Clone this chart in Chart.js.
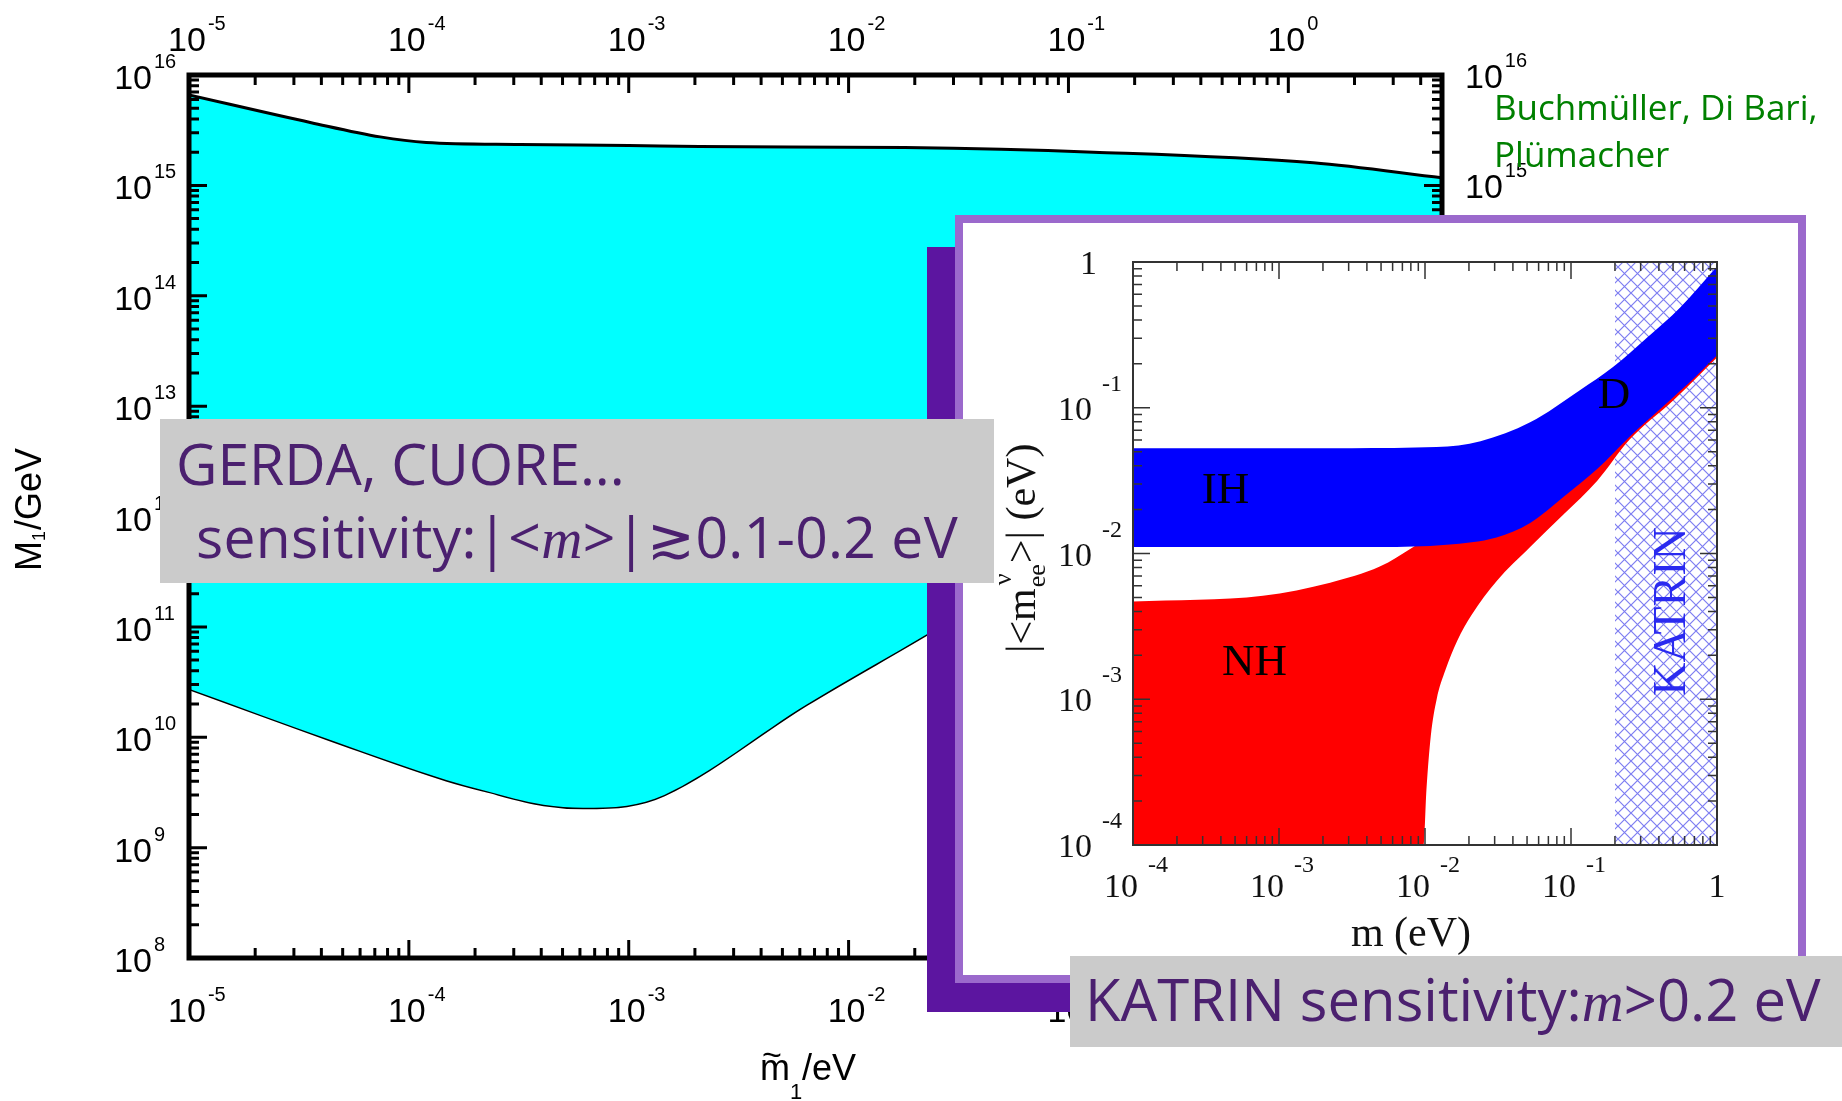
<!DOCTYPE html>
<html>
<head>
<meta charset="utf-8">
<title>Leptogenesis and neutrino mass</title>
<script src="https://cdn.jsdelivr.net/npm/chart.js@4.4.1/dist/chart.umd.min.js"></script>
<style>
  html, body { margin: 0; padding: 0; background: #fff; }
  body { position: relative; width: 1842px; height: 1101px; overflow: hidden; }
  canvas { position: absolute; }
  #mainChart { left: 0; top: 0; }
  .credit { position: absolute; left: 1494px; top: 83px; font: 35px "Open Sans", sans-serif; line-height: 47px; color: #008000; white-space: nowrap; }
  .shadow { position: absolute; left: 927px; top: 247px; width: 851px; height: 765px; background: #5c15a0; }
  .frame { position: absolute; left: 955px; top: 215px; width: 851px; height: 768px; box-sizing: border-box; background: #fff; border: 8px solid #9b69cc; }
  #insetChart { left: 955px; top: 215px; }
  .note { position: absolute; background: #cbcbcb; color: #4b206f; font-family: "Open Sans", sans-serif; }
  .note .ln { position: absolute; white-space: nowrap; line-height: 1; }
  .note i { font-family: "Liberation Serif", serif; line-height: 0; }
  .gerda { left: 160px; top: 419px; width: 834px; height: 164px; font-size: 57px; }
  .katrin { left: 1070px; top: 956px; width: 772px; height: 91px; font-size: 58px; }
</style>
</head>
<body>
<canvas id="mainChart" width="1842" height="1101"></canvas>
<div class="credit">Buchmüller, Di Bari,<br>Plümacher</div>
<div class="shadow"></div>
<div class="frame"></div>
<canvas id="insetChart" width="851" height="768"></canvas>
<div class="note gerda">
  <div class="ln" style="left:16px; top:16px;">GERDA, CUORE...</div>
  <div class="ln" style="left:36px; top:89px; letter-spacing:0.3px;">sensitivity:|&lt;<i>m</i>&gt;|≳0.1-0.2 eV</div>
</div>
<div class="note katrin">
  <div class="ln" style="left:15px; top:14px;">KATRIN sensitivity:<i>m</i>&gt;0.2 eV</div>
</div>
<script>
// ---- main plot: allowed window for M1 vs effective neutrino mass ----
const upperM = [1e-5, 3.6e-5, 7.4e-5, 1.2e-4, 3.2e-4, 1e-3, 2.1e-3, 1.8e-2, 0.13, 1.3, 5];
const upperM1 = [6.6e15, 3.7e15, 2.75e15, 2.45e15, 2.35e15, 2.3e15, 2.25e15, 2.2e15, 2.0e15, 1.6e15, 1.17e15];
const lowerM = [1e-5, 4.5e-5, 1.48e-4, 2.2e-4, 4.1e-4, 6.2e-4, 9.8e-4, 1.45e-3, 6.5e-3, 2.3e-2, 5];
const lowerM1 = [2.75e10, 9.3e9, 4.1e9, 3.3e9, 2.45e9, 2.3e9, 2.4e9, 3.0e9, 2.0e10, 8.7e10, 5.8e13];
const mainXExps = [-5, -4, -3, -2, -1, 0];
const mainYExps = [8, 9, 10, 11, 12, 13, 14, 15, 16];

// ---- inset: |<m_ee>| vs lightest neutrino mass ----
const blueTopM = [1e-4, 3.16e-3, 0.012, 0.024, 0.0525, 0.115, 0.195, 0.331, 0.562, 1];
const blueTopMee = [0.0528, 0.0528, 0.0537, 0.0589, 0.0794, 0.132, 0.191, 0.302, 0.49, 0.933];
const blueBotM = [1e-4, 4.9e-3, 0.0141, 0.0309, 0.0525, 0.0891, 0.151, 0.251, 0.427, 0.724, 1];
const blueBotMee = [0.0111, 0.0111, 0.0115, 0.0129, 0.0162, 0.0245, 0.038, 0.0631, 0.102, 0.166, 0.229];
const redTopM = [1e-4, 7.76e-4, 2.24e-3, 4.9e-3, 8.32e-3, 0.01413, 0.03162, 0.1, 0.3162, 1];
const redTopMee = [4.68e-3, 5.13e-3, 6.31e-3, 8.13e-3, 0.01109, 0.01585, 0.02818, 0.0708, 0.1995, 0.5623];
const redBotM = [1e-4, 9.77e-3, 1.023e-2, 1.096e-2, 1.202e-2, 1.38e-2, 1.66e-2, 2.089e-2, 3.09e-2, 5.248e-2, 8.913e-2, 0.1514, 0.2512, 0.5012, 1];
const redBotMee = [1e-4, 1e-4, 2.4e-4, 5.62e-4, 1.0e-3, 1.585e-3, 2.51e-3, 3.8e-3, 6.46e-3, 0.01109, 0.01862, 0.03162, 0.0603, 0.1122, 0.2213];
const katrinLimit = 0.2;
const insetXExps = [-4, -3, -2, -1, 0];
const insetYExps = [-4, -3, -2, -1, 0];

const toPoints = (xs, ys) => xs.map((x, i) => ({x: x, y: ys[i]}));

// log ticks k*10^d between min and max
function logTicks(min, max) {
  const out = [];
  for (let d = Math.floor(Math.log10(min)); d <= Math.ceil(Math.log10(max)); d++) {
    for (let k = 1; k < 10; k++) {
      const v = k * Math.pow(10, d);
      if (v >= min * 0.999 && v <= max * 1.001) out.push({v: v, major: k === 1});
    }
  }
  return out;
}

// inward ticks on all four sides
function drawTicks(ctx, scale, area, majorLen, minorLen) {
  logTicks(scale.min, scale.max).forEach(t => {
    const p = scale.getPixelForValue(t.v);
    const len = t.major ? majorLen : minorLen;
    ctx.beginPath();
    if (scale.isHorizontal()) {
      ctx.moveTo(p, area.bottom); ctx.lineTo(p, area.bottom - len);
      ctx.moveTo(p, area.top); ctx.lineTo(p, area.top + len);
    } else {
      ctx.moveTo(area.left, p); ctx.lineTo(area.left + len, p);
      ctx.moveTo(area.right, p); ctx.lineTo(area.right - len, p);
    }
    ctx.stroke();
  });
}

// "10" with a raised exponent; x is the anchor of the "10", y its baseline
function drawPower(ctx, exp, x, y, o) {
  ctx.font = o.baseFont;
  const w = ctx.measureText('10').width;
  const left = o.align === 'center' ? x - w / 2 : (o.align === 'right' ? x - w : x);
  ctx.textAlign = 'left';
  ctx.textBaseline = 'alphabetic';
  ctx.fillText('10', left, y);
  ctx.font = o.expFont;
  ctx.fillText(String(exp), left + w + o.gap, y - o.rise);
}

const mainFrame = {
  id: 'mainFrame',
  afterDraw(chart) {
    const ctx = chart.ctx, a = chart.chartArea;
    const x = chart.scales.x, y = chart.scales.y;
    ctx.save();
    ctx.strokeStyle = '#000';
    ctx.fillStyle = '#000';
    ctx.lineWidth = 3;
    drawTicks(ctx, x, a, 18, 10);
    drawTicks(ctx, y, a, 18, 10);
    ctx.lineWidth = 5;
    ctx.strokeRect(a.left, a.top, a.right - a.left, a.bottom - a.top);

    const lab = {baseFont: '34px "Liberation Sans", Arial', expFont: '20px "Liberation Sans", Arial', gap: 2, rise: 21};
    mainXExps.forEach(e => {
      const px = x.getPixelForValue(Math.pow(10, e)) - 2;
      drawPower(ctx, e, px, 51, Object.assign({align: 'center'}, lab));
      drawPower(ctx, e, px, 1022, Object.assign({align: 'center'}, lab));
    });
    mainYExps.forEach(e => {
      const py = y.getPixelForValue(Math.pow(10, e));
      drawPower(ctx, e, 152, py + 14, Object.assign({align: 'right'}, lab));
      drawPower(ctx, e, a.right + 23, py + 13, Object.assign({align: 'left'}, lab));
    });

    // x title: m-tilde_1 / eV
    ctx.textAlign = 'left';
    ctx.textBaseline = 'alphabetic';
    ctx.font = '36px "Liberation Sans", Arial';
    ctx.fillText('m', 760, 1080);
    const wm = ctx.measureText('m').width;
    ctx.font = '34px "Liberation Sans", Arial';
    ctx.fillText('~', 762, 1066);
    ctx.font = '22px "Liberation Sans", Arial';
    ctx.fillText('1', 760 + wm, 1099);
    ctx.font = '36px "Liberation Sans", Arial';
    ctx.fillText('/eV', 802, 1080);

    // y title: M_1 / GeV
    ctx.translate(41, 571);
    ctx.rotate(-Math.PI / 2);
    ctx.font = '36px "Liberation Sans", Arial';
    ctx.fillText('M', 0, 0);
    const wM = ctx.measureText('M').width;
    ctx.font = '18px "Liberation Sans", Arial';
    ctx.fillText('1', wM, 4);
    const w1 = ctx.measureText('1').width;
    ctx.font = '36px "Liberation Sans", Arial';
    ctx.fillText('/GeV', wM + w1 + 1, 0);
    ctx.restore();
  }
};

new Chart(document.getElementById('mainChart'), {
  type: 'line',
  data: {
    datasets: [
      {
        label: 'upper bound',
        data: toPoints(upperM, upperM1),
        borderColor: '#000',
        borderWidth: 3,
        backgroundColor: '#00ffff',
        fill: '+1',
        pointRadius: 0,
        cubicInterpolationMode: 'monotone'
      },
      {
        label: 'lower bound',
        data: toPoints(lowerM, lowerM1),
        borderColor: '#000',
        borderWidth: 3,
        fill: false,
        pointRadius: 0,
        cubicInterpolationMode: 'monotone'
      }
    ]
  },
  options: {
    responsive: false,
    animation: false,
    devicePixelRatio: 1,
    layout: {padding: {left: 189, top: 75, right: 400, bottom: 143}},
    plugins: {legend: {display: false}, tooltip: {enabled: false}},
    scales: {
      x: {type: 'logarithmic', min: 1e-5, max: 5, display: false},
      y: {type: 'logarithmic', min: 1e8, max: 1e16, display: false}
    }
  },
  plugins: [mainFrame]
});

// blue cross-hatch for the KATRIN region
function crossHatch() {
  const c = document.createElement('canvas');
  c.width = 13; c.height = 13;
  const g = c.getContext('2d');
  g.strokeStyle = 'rgba(70,70,235,0.7)';
  g.lineWidth = 1.2;
  g.beginPath();
  g.moveTo(-1, -1); g.lineTo(14, 14);
  g.moveTo(14, -1); g.lineTo(-1, 14);
  g.stroke();
  return g.createPattern(c, 'repeat');
}

const regionLabels = [
  {text: 'IH', m: 4.3e-4, mee: 0.0222},
  {text: 'NH', m: 6.8e-4, mee: 1.47e-3},
  {text: 'D', m: 0.197, mee: 0.1}
];

const insetFrame = {
  id: 'insetFrame',
  afterDatasetsDraw(chart) {
    const ctx = chart.ctx;
    const x = chart.scales.x, y = chart.scales.y;
    ctx.save();
    ctx.fillStyle = '#000';
    ctx.font = '45px "Liberation Serif", "Times New Roman", serif';
    ctx.textAlign = 'center';
    ctx.textBaseline = 'alphabetic';
    regionLabels.forEach(l => {
      ctx.fillText(l.text, x.getPixelForValue(l.m), y.getPixelForValue(l.mee));
    });
    ctx.fillStyle = '#2a2af0';
    ctx.font = '46px "Liberation Serif", "Times New Roman", serif';
    ctx.translate(x.getPixelForValue(0.476), y.getPixelForValue(4.0e-3));
    ctx.rotate(-Math.PI / 2);
    ctx.fillText('KATRIN', 0, 15);
    ctx.restore();
  },
  afterDraw(chart) {
    const ctx = chart.ctx, a = chart.chartArea;
    const x = chart.scales.x, y = chart.scales.y;
    ctx.save();
    ctx.strokeStyle = '#333';
    ctx.lineWidth = 1.5;
    drawTicks(ctx, x, a, 17, 9);
    drawTicks(ctx, y, a, 17, 9);
    ctx.lineWidth = 2;
    ctx.strokeRect(a.left, a.top, a.right - a.left, a.bottom - a.top);

    ctx.fillStyle = '#111';
    const serif = '"Liberation Serif", "Times New Roman", serif';
    const lab = {baseFont: '34px ' + serif, expFont: '24px ' + serif, gap: 10, rise: 29, align: 'right'};
    insetYExps.forEach(e => {
      const py = y.getPixelForValue(Math.pow(10, e));
      if (e === 0) {
        ctx.font = '34px ' + serif;
        ctx.textAlign = 'right';
        ctx.fillText('1', 142, py + 12);
      } else {
        drawPower(ctx, e, 137, py + 12, lab);
      }
    });
    insetXExps.forEach(e => {
      const px = x.getPixelForValue(Math.pow(10, e));
      if (e === 0) {
        ctx.font = '34px ' + serif;
        ctx.textAlign = 'center';
        ctx.fillText('1', px, a.bottom + 52);
      } else {
        drawPower(ctx, e, px + 5, a.bottom + 52, Object.assign({}, lab, {rise: 25}));
      }
    });

    // x title
    ctx.font = '42px ' + serif;
    ctx.textAlign = 'center';
    ctx.fillText('m (eV)', 456, 731);

    // y title |<m_ee^nu>| (eV), read bottom to top
    ctx.translate(80, 438);
    ctx.rotate(-Math.PI / 2);
    ctx.textAlign = 'left';
    let cx = 0;
    ctx.font = '42px ' + serif;
    ctx.fillText('|<m', cx, 0);
    cx += ctx.measureText('|<m').width;
    ctx.font = '26px ' + serif;
    ctx.fillText('ee', cx + 1, 10);
    ctx.fillText('ν', cx + 3, -24);
    cx += ctx.measureText('ee').width + 2;
    ctx.font = '42px ' + serif;
    ctx.fillText('>| (eV)', cx, 0);
    ctx.restore();
  }
};

const bandStyle = {pointRadius: 0, borderWidth: 0, cubicInterpolationMode: 'monotone'};

new Chart(document.getElementById('insetChart'), {
  type: 'line',
  data: {
    datasets: [
      Object.assign({label: 'IH / D upper', data: toPoints(blueTopM, blueTopMee), backgroundColor: '#0000ff', fill: '+1'}, bandStyle),
      Object.assign({label: 'IH / D lower', data: toPoints(blueBotM, blueBotMee), fill: false}, bandStyle),
      Object.assign({label: 'NH upper', data: toPoints(redTopM, redTopMee), backgroundColor: '#ff0000', fill: '+1'}, bandStyle),
      Object.assign({label: 'NH lower', data: toPoints(redBotM, redBotMee), fill: false}, bandStyle),
      Object.assign({label: 'KATRIN', data: toPoints([katrinLimit, 1], [1, 1]), backgroundColor: crossHatch(), fill: 'start'}, bandStyle)
    ]
  },
  options: {
    responsive: false,
    animation: false,
    devicePixelRatio: 1,
    layout: {padding: {left: 178, top: 47, right: 89, bottom: 138}},
    plugins: {legend: {display: false}, tooltip: {enabled: false}},
    scales: {
      x: {type: 'logarithmic', min: 1e-4, max: 1, display: false},
      y: {type: 'logarithmic', min: 1e-4, max: 1, display: false}
    }
  },
  plugins: [insetFrame]
});
</script>
</body>
</html>
